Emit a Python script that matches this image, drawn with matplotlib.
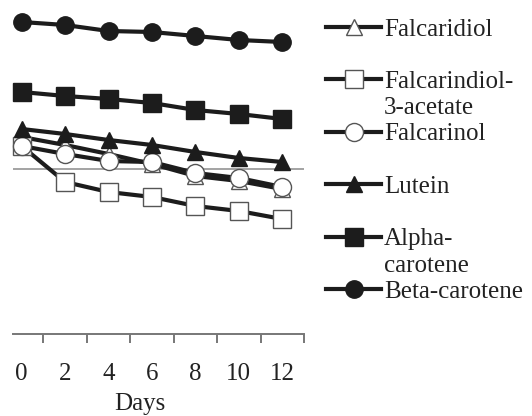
import matplotlib
matplotlib.use("Agg")
import matplotlib.pyplot as plt
import numpy as np

plt.rcParams['font.family'] = ['Liberation Serif', 'DejaVu Serif']

# storage days (categories) and relative levels (no y scale shown)
days = [0, 2, 4, 6, 8, 10, 12]
falcaridiol = [197, 189, 180, 170, 158, 153, 145]
falcarindiol_acetate = [188, 152, 142, 137, 128, 123, 115]
falcarinol = [188, 180, 173, 172, 161, 156, 147]
lutein = [205, 200, 194, 189, 182, 176, 172]
alpha_carotene = [242, 238, 235, 231, 224, 220, 215]
beta_carotene = [312, 309, 303, 302, 298, 294, 292]
ref_level = 165

fig = plt.figure(figsize=(5.32, 4.16), dpi=100)
ax = fig.add_axes([13 / 532, 82 / 416, 291 / 532, 334 / 416])

x = np.arange(len(days))
line_col = '#1c1c1c'
lw = 3.0

ax.axhline(ref_level, color='#8a8a8a', lw=1.1, zorder=1)

h1, = ax.plot(x, falcaridiol, color=line_col, lw=lw, marker='^', ms=12,
              mfc='white', mec='#555555', mew=1.0, label='Falcaridiol', clip_on=False)
h2, = ax.plot(x, falcarindiol_acetate, color=line_col, lw=lw, marker='s', ms=12.5,
              mfc='white', mec='#555555', mew=1.0, label='Falcarindiol-', clip_on=False)
h3, = ax.plot(x, falcarinol, color=line_col, lw=lw, marker='o', ms=13,
              mfc='white', mec='#555555', mew=1.0, label='Falcarinol', clip_on=False)
h4, = ax.plot(x, lutein, color=line_col, lw=lw, marker='^', ms=12,
              mfc=line_col, mec=line_col, label='Lutein', clip_on=False)
h5, = ax.plot(x, alpha_carotene, color=line_col, lw=lw, marker='s', ms=12.5,
              mfc=line_col, mec=line_col, label='Alpha-', clip_on=False)
h6, = ax.plot(x, beta_carotene, color=line_col, lw=lw, marker='o', ms=12.5,
              mfc=line_col, mec=line_col, label='Beta-carotene', clip_on=False)

ax.set_xlim(-0.2, 6.5)
ax.set_ylim(0, 334)

for s in ['left', 'right', 'top']:
    ax.spines[s].set_visible(False)
ax.spines['bottom'].set_color('#777777')
ax.spines['bottom'].set_linewidth(1.4)
ax.set_yticks([])

# ticks between the categories, labels on the categories
ax.set_xticks(x + 0.5)
ax.set_xticklabels([])
ax.tick_params(axis='x', which='major', length=6.5, width=1.4, color='#777777', direction='out')
ax.set_xticks(x, minor=True)
ax.set_xticklabels([str(d) for d in days], minor=True)
ax.tick_params(axis='x', which='minor', length=0, pad=21, labelsize=18, labelcolor='#222222')

ax.set_xlabel('Days', fontsize=18, color='#222222')
ax.xaxis.set_label_coords(0.436, -0.177)

leg = fig.legend(handles=[h1, h2, h3, h4, h5, h6], loc='upper left',
                 bbox_to_anchor=(326 / 532, 1 - 18 / 416), frameon=False,
                 fontsize=18, handlelength=2.2, handletextpad=0.12,
                 labelspacing=1.2, borderpad=0, borderaxespad=0)
for t in leg.get_texts():
    t.set_color('#222222')

txts = leg.get_texts()
fig.canvas.draw()
for t, extra in [(txts[1], '3-acetate'), (txts[4], 'carotene')]:
    ax.annotate(extra, xy=(0, 0.5), xycoords=t, xytext=(0, -18.8),
                textcoords='offset points', ha='left', va='center',
                fontsize=18, color='#222222', annotation_clip=False)

fig.savefig('out.png', dpi=100)
